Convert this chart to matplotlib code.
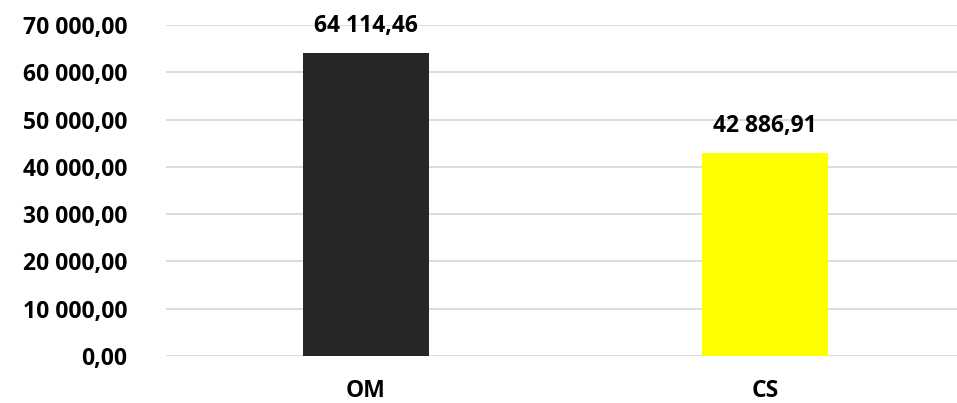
import matplotlib.pyplot as plt
import numpy as np

categories = ['OM', 'CS']
values = [64114.46, 42886.91]
colors = ['#262626', '#ffff00']
yticks = np.arange(0, 70001, 10000)


def fmt(v):
    # french style: space thousands, comma decimal
    s = '{:,.2f}'.format(v)
    return s.replace(',', ' ').replace('.', ',')


plt.rcParams['font.family'] = ['Open Sans', 'DejaVu Sans']
plt.rcParams['font.weight'] = 'bold'
FS = 16.5

fig = plt.figure(figsize=(9.57, 4.03), dpi=100)
ax = fig.add_axes([166/957, 47/403, 791/957, 331/403])

x = np.arange(len(categories))
bars = ax.bar(x, values, width=0.316, color=colors, zorder=3)

for b, v in zip(bars, values):
    ax.annotate(fmt(v), (b.get_x() + b.get_width()/2, v),
                xytext=(0, 11), textcoords='offset points',
                ha='center', va='bottom', fontsize=FS, fontweight='bold')

ax.set_xlim(-0.501, 1.481)
ax.set_ylim(0, 70000)
ax.set_yticks(yticks)
ax.set_yticklabels([fmt(t) for t in yticks], fontsize=FS, fontweight='bold')
ax.set_xticks(x)
ax.set_xticklabels(categories, fontsize=FS, fontweight='bold')
ax.tick_params(axis='y', length=0, pad=28)
ax.tick_params(axis='x', length=0, pad=16.5)
ax.grid(axis='y', color='#d9d9d9', linewidth=1.3, zorder=0)
for s in ax.spines.values():
    s.set_visible(False)

fig.savefig('out.png', dpi=100)
